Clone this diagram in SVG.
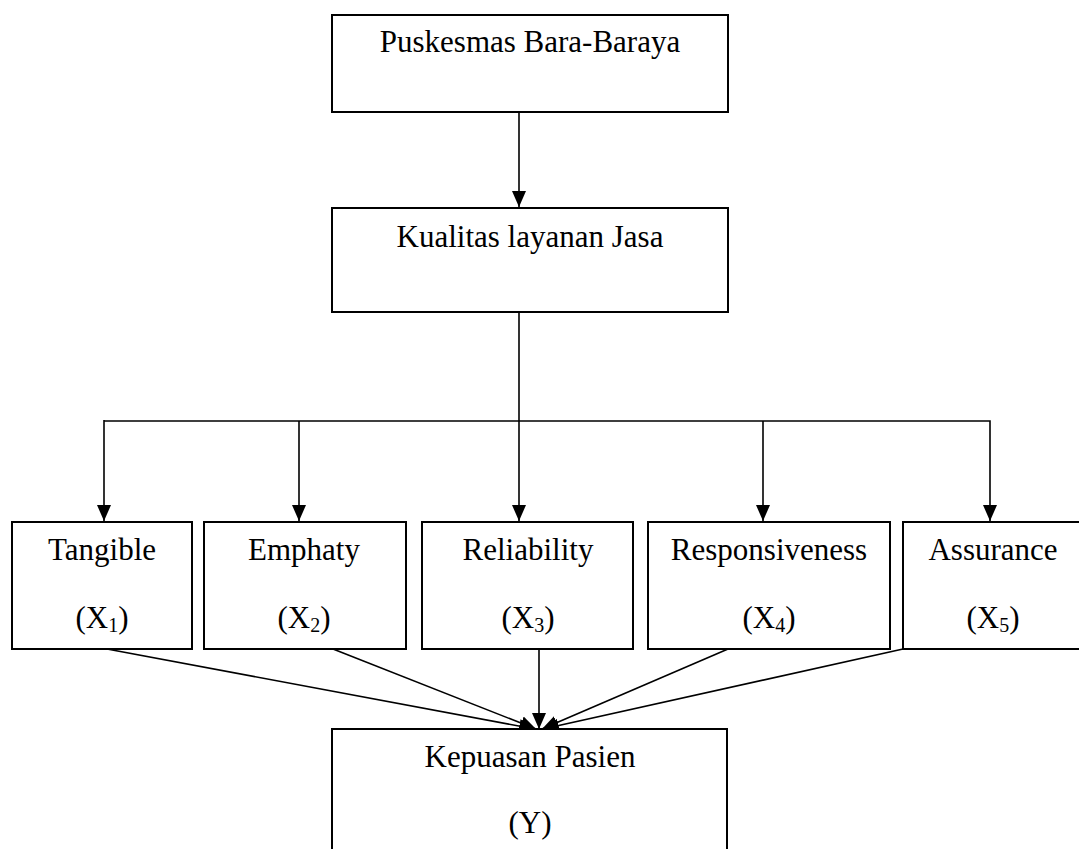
<svg xmlns="http://www.w3.org/2000/svg" width="1079" height="849" viewBox="0 0 1079 849">
<defs>
<style>
.box{fill:#fff;stroke:#000;stroke-width:2}
.ln{fill:none;stroke:#000;stroke-width:1.6}
.t{font-family:"Liberation Serif","Times New Roman",serif;font-size:31px;fill:#000;text-anchor:middle}
.sub{font-size:20px}
</style>
<marker id="ah" markerUnits="userSpaceOnUse" markerWidth="16" markerHeight="18" viewBox="0 0 16 18" refX="16" refY="9" orient="auto">
<path d="M0,2 L16,9 L0,16 Z" fill="#000"/>
</marker>
</defs>
<rect width="1079" height="849" fill="#fff"/>
<g id="connectors">
<line class="ln" x1="519" y1="112" x2="519" y2="207" marker-end="url(#ah)"/>
<line class="ln" x1="519" y1="312" x2="519" y2="521" marker-end="url(#ah)"/>
<polyline class="ln" points="104,421 990,421 990,521" marker-end="url(#ah)"/>
<line class="ln" x1="104" y1="420" x2="104" y2="521" marker-end="url(#ah)"/>
<line class="ln" x1="299" y1="421" x2="299" y2="521" marker-end="url(#ah)"/>
<line class="ln" x1="763" y1="421" x2="763" y2="521" marker-end="url(#ah)"/>
<line class="ln" x1="107" y1="649" x2="535" y2="729" marker-end="url(#ah)"/>
<line class="ln" x1="333" y1="649" x2="536" y2="729" marker-end="url(#ah)"/>
<line class="ln" x1="539" y1="649" x2="539" y2="729" marker-end="url(#ah)"/>
<line class="ln" x1="728" y1="649" x2="542" y2="729" marker-end="url(#ah)"/>
<line class="ln" x1="903" y1="649" x2="543" y2="729" marker-end="url(#ah)"/>
</g>
<g id="puskesmas">
<rect class="box" x="332" y="15" width="396" height="97"/>
<text class="t" x="530" y="52">Puskesmas Bara-Baraya</text>
</g>
<g id="kualitas">
<rect class="box" x="332" y="208" width="396" height="104"/>
<text class="t" x="530" y="247">Kualitas layanan Jasa</text>
</g>
<g id="tangible">
<rect class="box" x="12" y="522" width="180" height="127"/>
<text class="t" x="102" y="560">Tangible</text>
<text class="t" x="102" y="628">(X<tspan class="sub" dy="4">1</tspan><tspan dy="-4">)</tspan></text>
</g>
<g id="emphaty">
<rect class="box" x="204" y="522" width="202" height="127"/>
<text class="t" x="304" y="560">Emphaty</text>
<text class="t" x="304" y="628">(X<tspan class="sub" dy="4">2</tspan><tspan dy="-4">)</tspan></text>
</g>
<g id="reliability">
<rect class="box" x="422" y="522" width="211" height="127"/>
<text class="t" x="528" y="560">Reliability</text>
<text class="t" x="528" y="628">(X<tspan class="sub" dy="4">3</tspan><tspan dy="-4">)</tspan></text>
</g>
<g id="responsiveness">
<rect class="box" x="648" y="522" width="242" height="127"/>
<text class="t" x="769" y="560">Responsiveness</text>
<text class="t" x="769" y="628">(X<tspan class="sub" dy="4">4</tspan><tspan dy="-4">)</tspan></text>
</g>
<g id="assurance">
<rect class="box" x="903" y="522" width="182" height="127"/>
<text class="t" x="993" y="560">Assurance</text>
<text class="t" x="993" y="628">(X<tspan class="sub" dy="4">5</tspan><tspan dy="-4">)</tspan></text>
</g>
<g id="kepuasan">
<rect class="box" x="332" y="729" width="395" height="140"/>
<text class="t" x="530" y="767">Kepuasan Pasien</text>
<text class="t" x="530" y="833">(Y)</text>
</g>
</svg>
